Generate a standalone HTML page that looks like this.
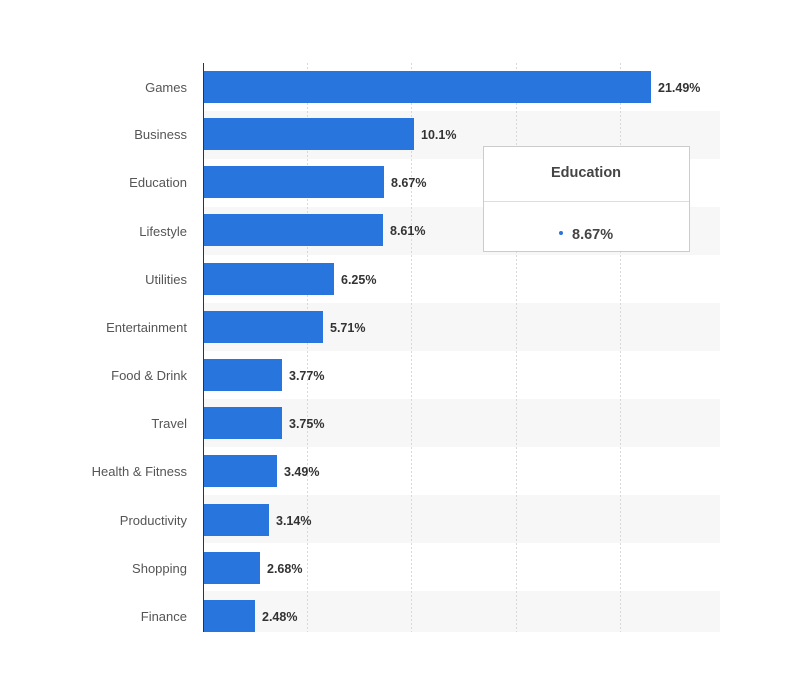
<!DOCTYPE html>
<html><head><meta charset="utf-8"><style>
body{margin:0;background:#fff}
svg{display:block;font-family:"Liberation Sans","DejaVu Sans",sans-serif}
</style></head><body>
<svg width="800" height="700" viewBox="0 0 800 700" xmlns="http://www.w3.org/2000/svg">
<rect width="800" height="700" fill="#fff"/>
<g fill="#f7f7f7">
<rect x="204" y="111" width="516" height="48"/>
<rect x="204" y="207" width="516" height="48"/>
<rect x="204" y="303" width="516" height="48"/>
<rect x="204" y="399" width="516" height="48"/>
<rect x="204" y="495" width="516" height="48"/>
<rect x="204" y="591" width="516" height="41"/>
</g>
<g stroke="#d8d8d8" stroke-dasharray="2,2" stroke-width="1">
<line x1="307.5" y1="63" x2="307.5" y2="632"/>
<line x1="411.5" y1="63" x2="411.5" y2="632"/>
<line x1="516.5" y1="63" x2="516.5" y2="632"/>
<line x1="620.5" y1="63" x2="620.5" y2="632"/>
</g>
<line x1="203.5" y1="63" x2="203.5" y2="632" stroke="#333" stroke-width="1"/>
<g fill="#2876dd">
<rect x="204" y="71" width="447" height="32"/>
<rect x="204" y="118" width="210" height="32"/>
<rect x="204" y="166" width="180" height="32"/>
<rect x="204" y="214" width="179" height="32"/>
<rect x="204" y="263" width="130" height="32"/>
<rect x="204" y="311" width="119" height="32"/>
<rect x="204" y="359" width="78" height="32"/>
<rect x="204" y="407" width="78" height="32"/>
<rect x="204" y="455" width="73" height="32"/>
<rect x="204" y="504" width="65" height="32"/>
<rect x="204" y="552" width="56" height="32"/>
<rect x="204" y="600" width="51" height="32"/>
</g>
<g font-size="13" fill="#555" text-anchor="end">
<text x="187" y="92">Games</text>
<text x="187" y="139">Business</text>
<text x="187" y="187">Education</text>
<text x="187" y="236">Lifestyle</text>
<text x="187" y="284">Utilities</text>
<text x="187" y="332">Entertainment</text>
<text x="187" y="380">Food &amp; Drink</text>
<text x="187" y="428">Travel</text>
<text x="187" y="476">Health &amp; Fitness</text>
<text x="187" y="525">Productivity</text>
<text x="187" y="573">Shopping</text>
<text x="187" y="621">Finance</text>
</g>
<g font-size="12.5" font-weight="bold" fill="#333">
<text x="658" y="92">21.49%</text>
<text x="421" y="139">10.1%</text>
<text x="391" y="187">8.67%</text>
<text x="390" y="235">8.61%</text>
<text x="341" y="284">6.25%</text>
<text x="330" y="332">5.71%</text>
<text x="289" y="380">3.77%</text>
<text x="289" y="428">3.75%</text>
<text x="284" y="476">3.49%</text>
<text x="276" y="525">3.14%</text>
<text x="267" y="573">2.68%</text>
<text x="262" y="621">2.48%</text>
</g>
<rect x="483.5" y="146.5" width="206" height="105" fill="#fff" stroke="#ccc"/>
<line x1="484" y1="201.5" x2="689" y2="201.5" stroke="#ddd"/>
<text x="586" y="177" font-size="14.5" font-weight="bold" fill="#444" text-anchor="middle">Education</text>
<circle cx="561" cy="233" r="2" fill="#2876dd"/>
<text x="572" y="239" font-size="14.5" font-weight="bold" fill="#444">8.67%</text>
</svg>
</body></html>
